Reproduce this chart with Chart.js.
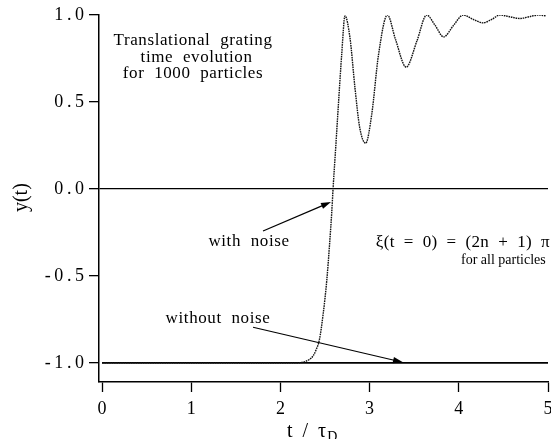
<!DOCTYPE html>
<html lang="en">
<head>
<meta charset="UTF-8">
<title>Translational grating time evolution</title>
<script src="https://cdn.jsdelivr.net/npm/chart.js"></script>
<style>
  html, body { margin: 0; padding: 0; background: #fff; }
  canvas { display: block; }
</style>
</head>
<body>
<canvas id="grating" width="551" height="439"></canvas>
<script>
// time in units of tau_D and y(t) for the run with noise
const tNoise = [0, 1.0, 2.0, 2.18, 2.26, 2.32, 2.37, 2.40, 2.436, 2.48, 2.52, 2.549, 2.575, 2.59, 2.617,
                2.65, 2.687, 2.724, 2.78, 2.836, 2.89, 2.956, 3.023, 3.10, 3.20, 3.29, 3.41, 3.53,
                3.64, 3.735, 3.83, 3.94, 4.05, 4.16, 4.27, 4.37, 4.46, 4.57, 4.686, 4.79, 4.89, 4.98];
const yNoise = [-1, -1, -1, -1, -0.995, -0.982, -0.957, -0.925, -0.87, -0.716, -0.524, -0.333, -0.138, 0, 0.215,
                0.484, 0.772, 0.995, 0.868, 0.58, 0.35, 0.263, 0.426, 0.772, 1.0, 0.86, 0.70, 0.85,
                1.0, 0.94, 0.874, 0.94, 1.0, 0.975, 0.955, 0.975, 1.0, 0.99, 0.98, 0.99, 1.0, 0.995];
// the run without noise never leaves the bottom
const tClean = [0, 5];
const yClean = [-1, -1];

const xTicks = [0, 1, 2, 3, 4, 5];
const yTicks = [-1, -0.5, 0, 0.5, 1];

const serif = '"Liberation Serif", "DejaVu Serif", serif';

function toPoints(xs, ys) {
    return xs.map((x, i) => ({ x: x, y: ys[i] }));
}

// line with a small filled head at the end
function arrow(ctx, x0, y0, x1, y1) {
    const a = Math.atan2(y1 - y0, x1 - x0);
    const len = 10, half = 3.2;
    ctx.beginPath();
    ctx.moveTo(x0, y0);
    ctx.lineTo(x1 - Math.cos(a) * len * 0.8, y1 - Math.sin(a) * len * 0.8);
    ctx.stroke();
    ctx.beginPath();
    ctx.moveTo(x1, y1);
    ctx.lineTo(x1 - Math.cos(a) * len - Math.sin(a) * half, y1 - Math.sin(a) * len + Math.cos(a) * half);
    ctx.lineTo(x1 - Math.cos(a) * len + Math.sin(a) * half, y1 - Math.sin(a) * len - Math.cos(a) * half);
    ctx.closePath();
    ctx.fill();
}

function spaced(ctx, px) {
    if ('letterSpacing' in ctx) ctx.letterSpacing = px + 'px';
}

const notes = {
    id: 'notes',
    afterDraw(chart) {
        const { ctx, scales: { x, y } } = chart;
        const px = v => x.getPixelForValue(v);
        const py = v => y.getPixelForValue(v);
        ctx.save();
        ctx.fillStyle = '#000';
        ctx.strokeStyle = '#000';
        ctx.lineWidth = 1.2;
        ctx.textBaseline = 'middle';
        ctx.textAlign = 'center';

        ctx.font = '17px ' + serif;
        spaced(ctx, 0.6);
        ctx.fillText('Translational  grating', px(1.02), py(0.853));
        ctx.fillText('time  evolution', px(1.06), py(0.755));
        ctx.fillText('for  1000  particles', px(1.02), py(0.663));

        ctx.fillText('with  noise', px(1.648), py(-0.30));
        ctx.fillText('without  noise', px(1.30), py(-0.744));

        ctx.textAlign = 'right';
        spaced(ctx, 0.3);
        ctx.fillText('\u03be(t  =  0)  =  (2n  +  1)  \u03c0', 550, py(-0.311));
        ctx.textAlign = 'center';
        spaced(ctx, 0);
        ctx.font = '14px ' + serif;
        ctx.fillText('for all particles', px(4.5), py(-0.409));

        arrow(ctx, px(1.805), py(-0.242), px(2.567), py(-0.075));
        arrow(ctx, px(1.693), py(-0.795), px(3.374), py(-0.997));

        // axis titles
        ctx.font = '20px ' + serif;
        ctx.save();
        ctx.translate(22, py(-0.05));
        ctx.rotate(-Math.PI / 2);
        ctx.fillText('y(t)', 0, 0);
        ctx.restore();

        ctx.textAlign = 'left';
        ctx.textBaseline = 'alphabetic';
        ctx.fillText('t  /  \u03c4', 287, 437);
        const w = ctx.measureText('t  /  \u03c4').width;
        ctx.font = '14px ' + serif;
        ctx.fillText('D', 287 + w + 1, 441);
        ctx.restore();
    }
};

new Chart(document.getElementById('grating'), {
    type: 'line',
    data: {
        datasets: [
            {
                label: 'with noise',
                data: toPoints(tNoise, yNoise),
                borderColor: '#111',
                borderWidth: 1.4,
                borderDash: [1.6, 0.8],
                pointRadius: 0,
                cubicInterpolationMode: 'monotone',
                fill: false
            },
            {
                label: 'without noise',
                data: toPoints(tClean, yClean),
                borderColor: '#000',
                borderWidth: 1.8,
                pointRadius: 0,
                fill: false
            }
        ]
    },
    options: {
        responsive: false,
        animation: false,
        layout: { padding: { top: 15, right: 3, left: 0, bottom: 0 } },
        plugins: {
            legend: { display: false },
            tooltip: { enabled: false }
        },
        scales: {
            x: {
                type: 'linear',
                min: -0.034,
                max: 5,
                afterBuildTicks: s => { s.ticks = xTicks.map(v => ({ value: v })); },
                afterFit: s => { s.height = 57; s.paddingLeft = 0; s.paddingRight = 0; },
                border: { color: '#000', width: 1.5 },
                grid: { drawOnChartArea: false, drawTicks: true, tickLength: 10, tickColor: '#000', tickWidth: 1.3 },
                ticks: { color: '#000', font: { family: serif, size: 18 }, padding: 6, maxRotation: 0, autoSkip: false }
            },
            y: {
                min: -1.11,
                max: 1.0,
                afterBuildTicks: s => { s.ticks = yTicks.map(v => ({ value: v })); },
                afterFit: s => { s.width = 99; s.paddingTop = 0; s.paddingBottom = 0; },
                border: { color: '#000', width: 1.5 },
                grid: {
                    drawOnChartArea: true,
                    color: c => (c.tick && c.tick.value === 0 ? '#000' : 'rgba(0,0,0,0)'),
                    lineWidth: 1.3,
                    drawTicks: true,
                    tickLength: 10,
                    tickColor: '#000',
                    tickWidth: 1.3
                },
                ticks: {
                    color: '#000',
                    font: { family: serif, size: 18 },
                    padding: 5,
                    callback: v => v.toFixed(1).split('').join('\u2009')
                }
            }
        }
    },
    plugins: [notes]
});
</script>
</body>
</html>
